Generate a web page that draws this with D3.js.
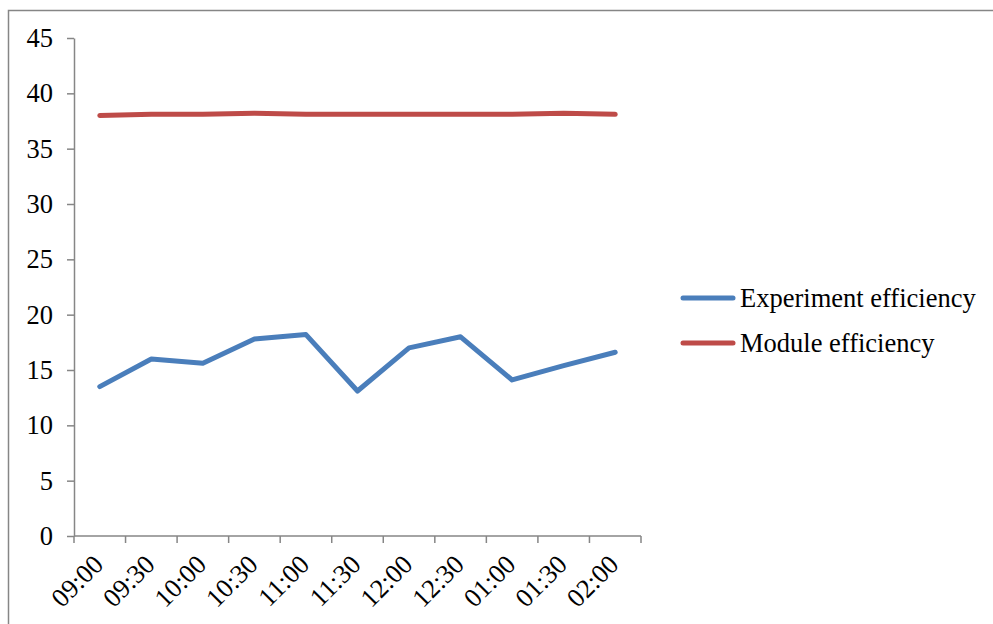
<!DOCTYPE html>
<html>
<head>
<meta charset="utf-8">
<script src="https://cdn.jsdelivr.net/npm/d3@7"></script>
<style>
  html, body { margin: 0; padding: 0; background: #fff; }
  svg { display: block; }
  svg text { font-family: "Liberation Serif", "Times New Roman", serif; }
</style>
</head>
<body>
<svg id="chart" width="993" height="624"></svg>
<script>
// Time slots along the x axis
const times = ["09:00", "09:30", "10:00", "10:30", "11:00", "11:30", "12:00", "12:30", "01:00", "01:30", "02:00"];
// Measured efficiency per time slot (%)
const experimentEfficiency = [13.5, 16.0, 15.6, 17.8, 18.2, 13.1, 17.0, 18.0, 14.1, 15.4, 16.6];
// Rated module efficiency per time slot (%)
const moduleEfficiency = [38.0, 38.1, 38.1, 38.2, 38.1, 38.1, 38.1, 38.1, 38.1, 38.2, 38.1];
const yTicks = [0, 5, 10, 15, 20, 25, 30, 35, 40, 45];
const seriesNames = ["Experiment efficiency", "Module efficiency"];
const seriesColors = ["#4a7ebb", "#be4b48"];

const svg = d3.select("#chart");
const axisColor = "#868686";
const fontSize = 26.5;

// Outer frame
svg.append("rect")
  .attr("x", 8.5).attr("y", 10.5)
  .attr("width", 1100).attr("height", 700)
  .attr("fill", "none").attr("stroke", axisColor).attr("stroke-width", 1.5);

const plotLeft = 74, plotRight = 641, plotTop = 38, plotBottom = 536;

const x = d3.scaleBand().domain(times).range([plotLeft, plotRight]).padding(0);
const y = d3.scaleLinear().domain([0, 45]).range([plotBottom, plotTop]);
const cx = t => x(t) + x.bandwidth() / 2;

// Y axis
const yAxis = d3.axisLeft(y).tickValues(yTicks).tickSize(7).tickPadding(14).tickSizeOuter(0);
const gy = svg.append("g").attr("transform", `translate(${plotLeft},0)`).call(yAxis);
gy.attr("font-family", null).attr("font-size", null);
gy.select(".domain").attr("stroke", axisColor).attr("stroke-width", 1.5);
gy.selectAll(".tick line").attr("stroke", axisColor).attr("stroke-width", 1.5);
gy.selectAll(".tick text")
  .attr("fill", "#000").style("font-size", fontSize + "px");

// X axis: ticks sit on category boundaries
const xAxisG = svg.append("g").attr("transform", `translate(0,${plotBottom})`);
xAxisG.append("line")
  .attr("x1", plotLeft).attr("x2", plotRight).attr("y1", 0).attr("y2", 0)
  .attr("stroke", axisColor).attr("stroke-width", 1.5);
const boundaries = times.map(t => x(t)).concat([plotRight]);
xAxisG.selectAll("line.tk").data(boundaries).enter().append("line")
  .attr("class", "tk")
  .attr("x1", d => d).attr("x2", d => d).attr("y1", 0).attr("y2", 7)
  .attr("stroke", axisColor).attr("stroke-width", 1.5);
xAxisG.selectAll("text").data(times).enter().append("text")
  .attr("transform", d => `translate(${cx(d) + 5},${30}) rotate(-45)`)
  .attr("text-anchor", "end")
  .style("font-size", fontSize + "px")
  .attr("fill", "#000")
  .text(d => d);

// Series lines
const line = d3.line().x((d, i) => cx(times[i])).y(d => y(d));
[experimentEfficiency, moduleEfficiency].forEach((vals, k) => {
  svg.append("path")
    .datum(vals)
    .attr("d", line)
    .attr("fill", "none")
    .attr("stroke", seriesColors[k])
    .attr("stroke-width", 5)
    .attr("stroke-linejoin", "round")
    .attr("stroke-linecap", "round");
});

// Legend
const legend = svg.append("g");
seriesNames.forEach((name, k) => {
  const ly = 298 + k * 45;
  legend.append("line")
    .attr("x1", 683).attr("x2", 733).attr("y1", ly).attr("y2", ly)
    .attr("stroke", seriesColors[k]).attr("stroke-width", 5)
    .attr("stroke-linecap", "round");
  legend.append("text")
    .attr("x", 740).attr("y", ly + 9)
    .style("font-size", fontSize + "px").attr("fill", "#000")
    .text(name);
});
</script>
</body>
</html>
